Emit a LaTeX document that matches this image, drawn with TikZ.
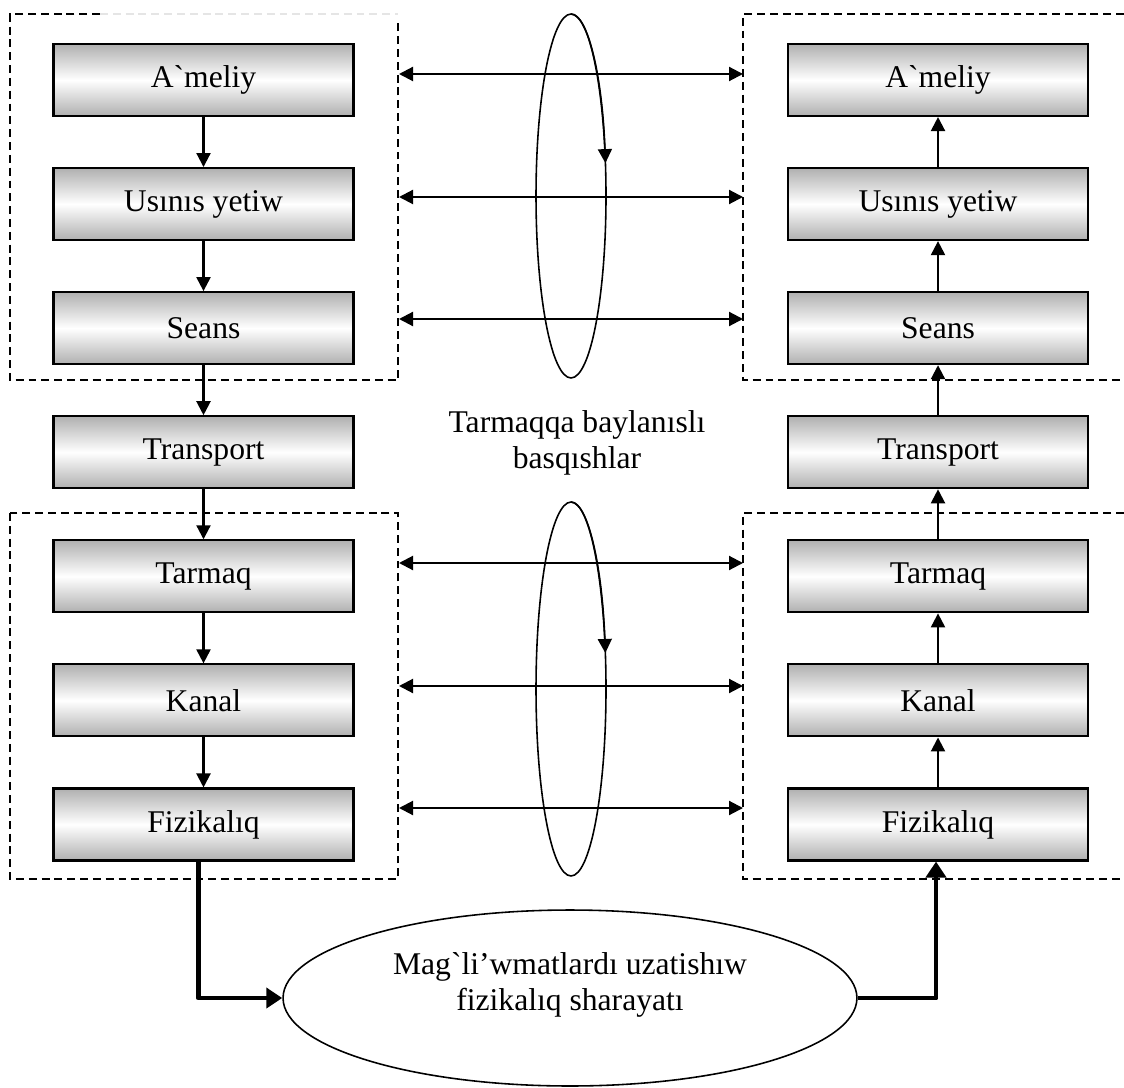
\documentclass[tikz,border=0pt]{standalone}
\usepackage{fontspec}
\setmainfont{Liberation Serif}
\usepackage{tikz}
\usetikzlibrary{arrows.meta,positioning,shapes.geometric}

\begin{document}
\begin{tikzpicture}[x=0.02cm,y=-0.02cm,->,>={Triangle[length=0.28cm,width=0.28cm]},
  node distance=1cm,line width=1.2pt,
  layer/.style={rectangle,draw,line width=1.2pt,minimum width=6cm,minimum height=1.44cm,inner sep=0pt,
    top color=gray!62,bottom color=gray!62,middle color=white,font=\fontsize{18}{20.7}\selectfont},
  frame/.style={-,line width=0.8pt,dash pattern=on 4.5pt off 2.8pt},
  ring/.style={-,line width=0.9pt},
  bold link/.style={line width=2.8pt,line join=round,-{Triangle[length=0.32cm,width=0.4cm]}}]

  \useasboundingbox (0,0) rectangle (1124,1087);

  % dashed frames
  \draw[frame] (100,14) -- (10,14) -- (10,380) -- (398,380) -- (398,20);
  \draw[frame,gray!20] (100,14) -- (398,14);
  \draw[frame] (10,513) rectangle (398,879);
  \draw[frame] (1124,14) -- (743,14) -- (743,380) -- (1124,380);
  \draw[frame] (1124,513) -- (743,513) -- (743,879) -- (1124,879);

  % sender
  \node[layer] (amL) at (203.5,80) {A\textasciigrave meliy};
  \node[layer] (usL) [below=of amL] {Usınıs yetiw};
  \node[layer] (seL) [below=of usL] {Seans};
  \node[layer] (trL) [below=of seL] {Transport};
  \node[layer] (taL) [below=of trL] {Tarmaq};
  \node[layer] (kaL) [below=of taL] {Kanal};
  \node[layer] (fiL) [below=of kaL] {Fizikalıq};

  % receiver
  \node[layer] (amR) at (938,80) {A\textasciigrave meliy};
  \node[layer] (usR) [below=of amR] {Usınıs yetiw};
  \node[layer] (seR) [below=of usR] {Seans};
  \node[layer] (trR) [below=of seR] {Transport};
  \node[layer] (taR) [below=of trR] {Tarmaq};
  \node[layer] (kaR) [below=of taR] {Kanal};
  \node[layer] (fiR) [below=of kaR] {Fizikalıq};

  \path (amL) edge (usL) (usL) edge (seL) (seL) edge (trL)
        (trL) edge (taL) (taL) edge (kaL) (kaL) edge (fiL);
  \path (usR) edge (amR) (seR) edge (usR) (trR) edge (seR)
        (taR) edge (trR) (kaR) edge (taR) (fiR) edge (kaR);

  % peer links
  \foreach \y [count=\i] in {74,197,319,563,686,808} {
    \coordinate (hl\i) at (399,\y);
    \coordinate (hr\i) at (743,\y);
    \draw[<->] (hl\i) -- (hr\i);
  }

  % rings
  \draw[ring] (571,196) ellipse [x radius=0.7cm,y radius=3.64cm];
  \draw[ring,->] (571,14) arc[start angle=90,end angle=10.4,x radius=0.7cm,y radius=3.64cm];
  \draw[ring] (571,689) ellipse [x radius=0.7cm,y radius=3.74cm];
  \draw[ring,->] (571,502) arc[start angle=90,end angle=11.1,x radius=0.7cm,y radius=3.74cm];

  \node[font=\fontsize{18}{20.7}\selectfont,align=center] (levels) at (577,443)
    {Tarmaqqa baylanıslı\\basqıshlar};

  % medium
  \node[draw,ellipse,minimum width=11.48cm,minimum height=3.52cm,inner sep=0pt,line width=0.9pt]
    (medium) at (570,998) {};
  \node[font=\fontsize{18}{20.7}\selectfont,align=center] (mediumtext) at (570,985)
    {Mag\textasciigrave li’wmatlardı uzatishıw\\fizikalıq sharayatı};

  \draw[bold link] ([xshift=-0.1cm]fiL.south) |- (medium.west);
  \draw[bold link] (medium.east) -| ([xshift=-0.04cm]fiR.south);
\end{tikzpicture}
\end{document}
